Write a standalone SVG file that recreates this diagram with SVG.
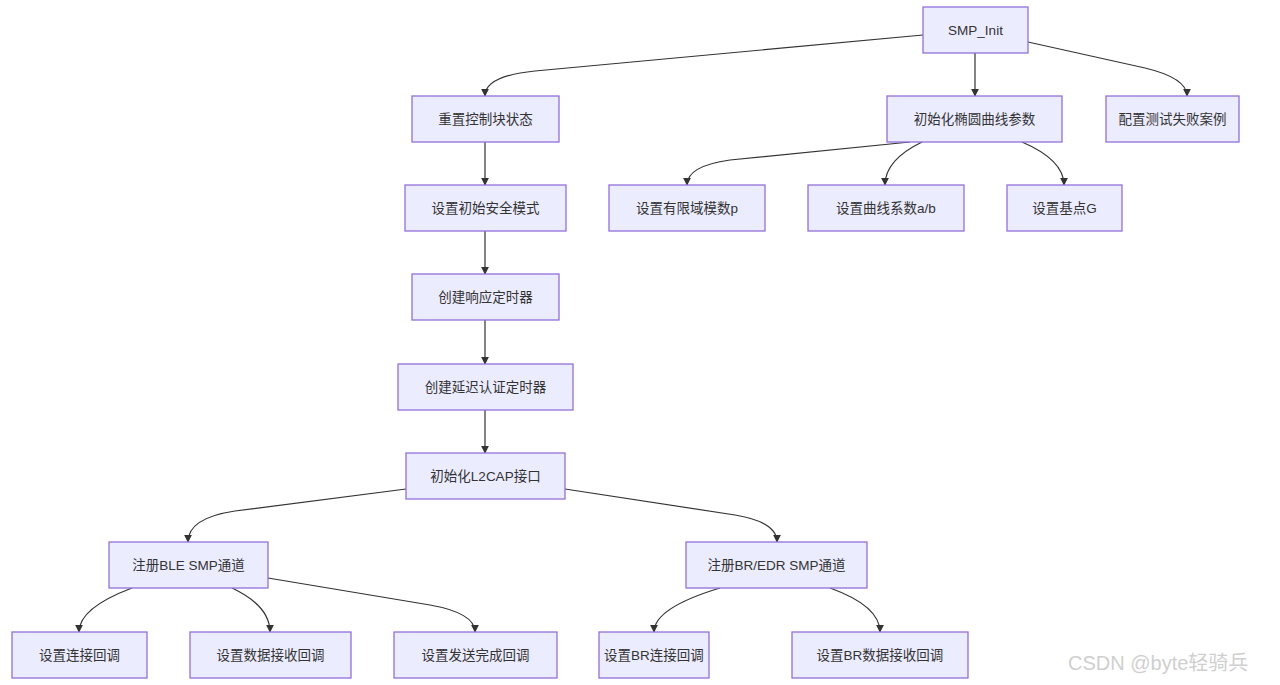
<svg xmlns="http://www.w3.org/2000/svg" width="1280" height="685" viewBox="0 0 1280 685">
<style>
.n rect{fill:#ECECFF;stroke:#9370DB;stroke-width:1.3}
.n text{font-family:"Liberation Sans","Noto Sans CJK SC",sans-serif;font-size:13.5px;fill:#333;text-anchor:middle;dominant-baseline:central}
.e path{fill:none;stroke:#333;stroke-width:1.2;marker-end:url(#ah)}
.wm{font-family:"Liberation Sans","Noto Sans CJK SC",sans-serif;font-size:20px;fill:#cfcfcf}
</style>
<defs>
<marker id="ah" viewBox="0 0 10 10" refX="9" refY="5" markerWidth="8" markerHeight="8" markerUnits="userSpaceOnUse" orient="auto">
<path d="M0,0 L10,5 L0,10 z" fill="#333"/>
</marker>
</defs>
<rect width="1280" height="685" fill="#fff"/>
<g class="e">
<path d="M923,35 L535,71 Q485,76 485,96"/>
<path d="M975,53 L975,96"/>
<path d="M1028,42 L1145,68 Q1187,78 1187,96"/>
<path d="M485,142 L485,185"/>
<path d="M485,231 L485,274"/>
<path d="M485,320 L485,364"/>
<path d="M485,410 L485,453"/>
<path d="M910,142 L730,160 Q687,166 687,185"/>
<path d="M922,142 Q885,160 885,185"/>
<path d="M1022,142 Q1064,160 1064,185"/>
<path d="M406,489 L235,511 Q188,518 188,542"/>
<path d="M565,489 L735,515 Q777,522 777,542"/>
<path d="M132,588 Q79,608 79,632"/>
<path d="M232,588 Q270,606 270,632"/>
<path d="M268,578 L430,605 Q475,613 475,632"/>
<path d="M720,588 Q654,608 654,632"/>
<path d="M830,588 Q880,606 880,632"/>
</g>
<g id="SMP_Init" class="n"><rect x="923" y="7" width="105" height="46"/><text x="975.5" y="30">SMP_Init</text></g>
<g id="reset" class="n"><rect x="412" y="96" width="147" height="46"/><text x="485.5" y="119">重置控制块状态</text></g>
<g id="ecc" class="n"><rect x="887" y="96" width="175" height="46"/><text x="974.5" y="119">初始化椭圆曲线参数</text></g>
<g id="testfail" class="n"><rect x="1106" y="96" width="133" height="46"/><text x="1172.5" y="119">配置测试失败案例</text></g>
<g id="secmode" class="n"><rect x="405" y="185" width="161" height="46"/><text x="485.5" y="208">设置初始安全模式</text></g>
<g id="setp" class="n"><rect x="609" y="185" width="156" height="46"/><text x="687" y="208">设置有限域模数p</text></g>
<g id="setab" class="n"><rect x="808" y="185" width="156" height="46"/><text x="886" y="208">设置曲线系数a/b</text></g>
<g id="setG" class="n"><rect x="1007" y="185" width="115" height="46"/><text x="1064.5" y="208">设置基点G</text></g>
<g id="rsptimer" class="n"><rect x="412" y="274" width="147" height="46"/><text x="485.5" y="297">创建响应定时器</text></g>
<g id="delaytimer" class="n"><rect x="398" y="364" width="175" height="46"/><text x="485.5" y="387">创建延迟认证定时器</text></g>
<g id="l2cap" class="n"><rect x="406" y="453" width="159" height="46"/><text x="485.5" y="476">初始化L2CAP接口</text></g>
<g id="ble" class="n"><rect x="109" y="542" width="159" height="46"/><text x="188.5" y="565">注册BLE SMP通道</text></g>
<g id="bredr" class="n"><rect x="686" y="542" width="181" height="46"/><text x="776.5" y="565">注册BR/EDR SMP通道</text></g>
<g id="conncb" class="n"><rect x="12" y="632" width="135" height="46"/><text x="79.5" y="655">设置连接回调</text></g>
<g id="datacb" class="n"><rect x="190" y="632" width="161" height="46"/><text x="270.5" y="655">设置数据接收回调</text></g>
<g id="sentcb" class="n"><rect x="394" y="632" width="163" height="46"/><text x="475.5" y="655">设置发送完成回调</text></g>
<g id="brconncb" class="n"><rect x="599" y="632" width="110" height="46"/><text x="654" y="655">设置BR连接回调</text></g>
<g id="brdatacb" class="n"><rect x="792" y="632" width="176" height="46"/><text x="880" y="655">设置BR数据接收回调</text></g>
<text class="wm" x="1068" y="670">CSDN @byte轻骑兵</text>
</svg>
